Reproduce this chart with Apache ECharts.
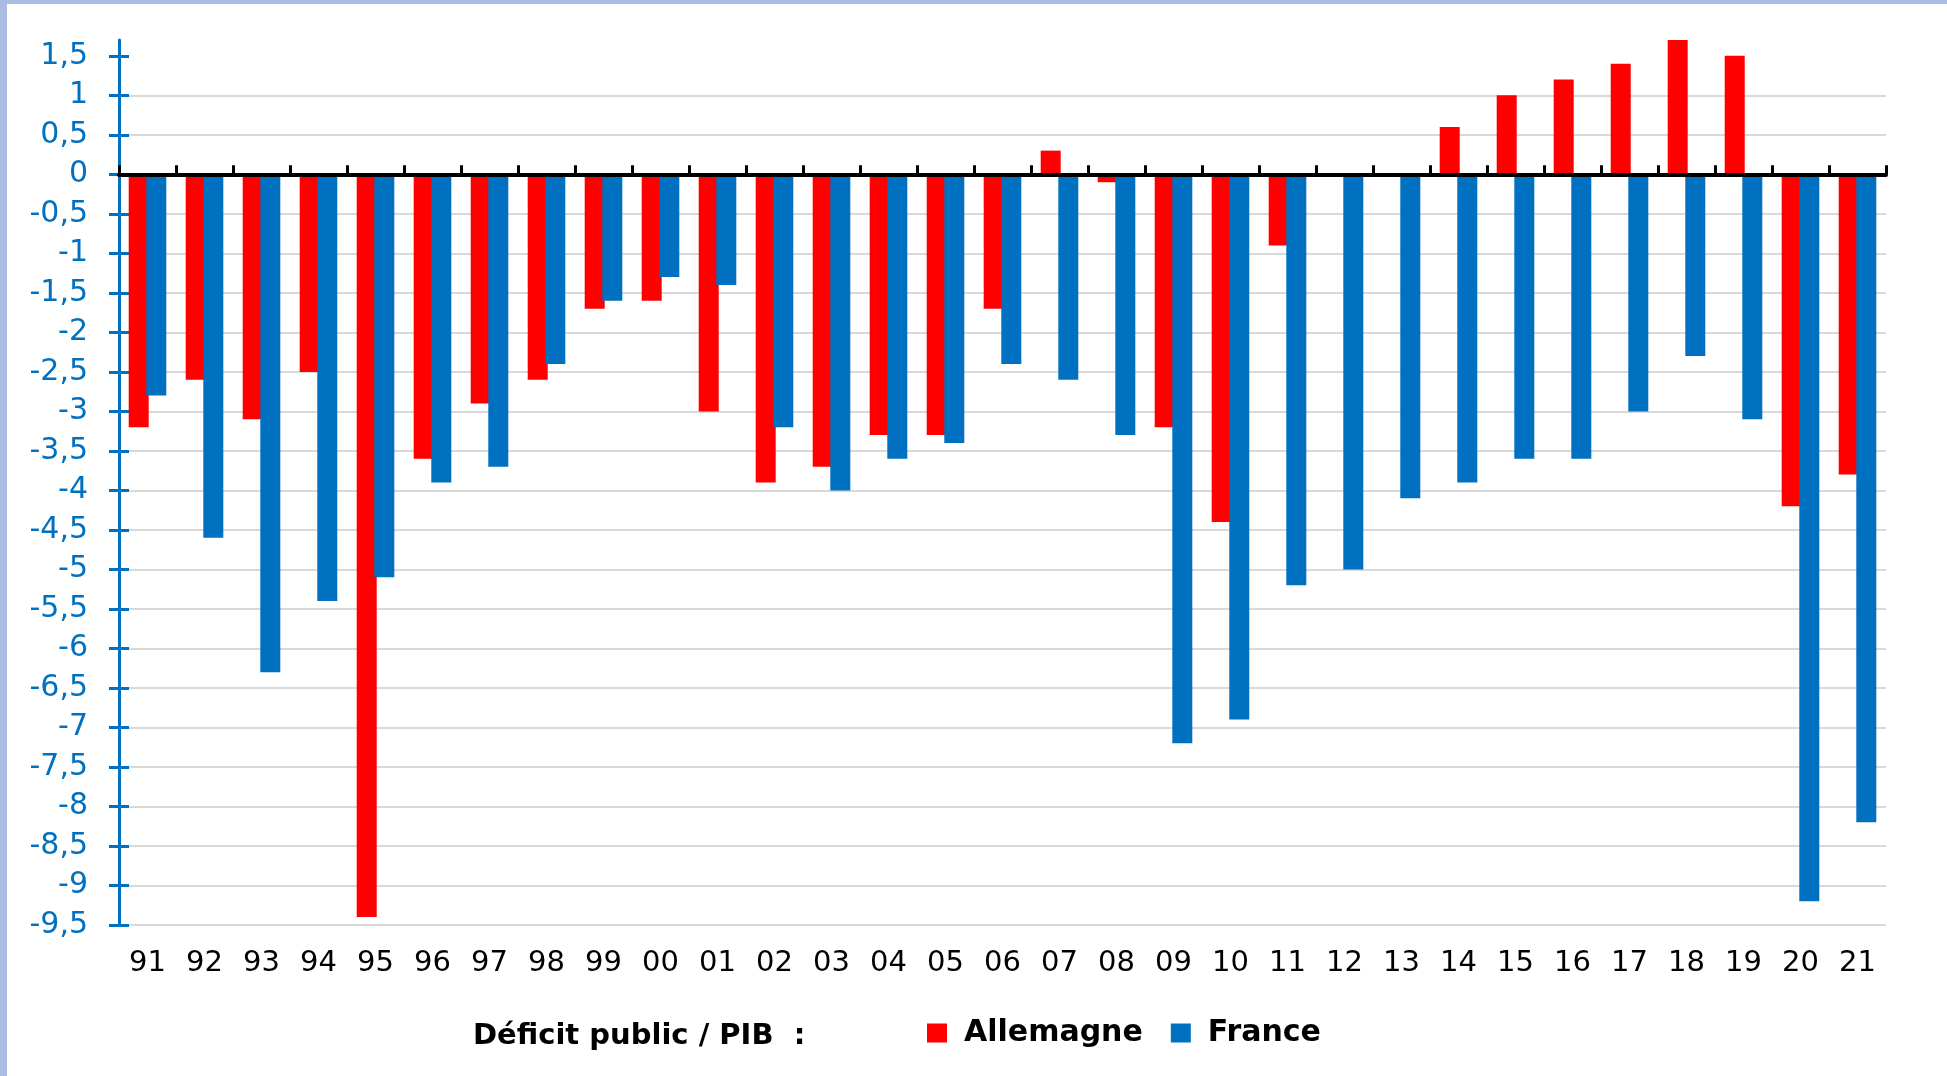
<!DOCTYPE html>
<html>
<head>
<meta charset="UTF-8">
<title>Déficit public / PIB</title>
<style>
  html, body { margin: 0; padding: 0; background: #a9bde2; }
  #myChart { position: absolute; left: 7px; top: 4px; width: 1940px; height: 1072px; background: #fff; }
</style>
</head>
<body>
<div id="myChart"></div>
<script src="https://cdn.jsdelivr.net/npm/echarts@6/dist/echarts.min.js"></script>
<script>
var years = ['91', '92', '93', '94', '95', '96', '97', '98', '99', '00',
             '01', '02', '03', '04', '05', '06', '07', '08', '09', '10',
             '11', '12', '13', '14', '15', '16', '17', '18', '19', '20', '21'];
var allemagne = [-3.2, -2.6, -3.1, -2.5, -9.4, -3.6, -2.9, -2.6, -1.7, -1.6,
                 -3.0, -3.9, -3.7, -3.3, -3.3, -1.7, 0.3, -0.1, -3.2, -4.4,
                 -0.9, 0, 0, 0.6, 1.0, 1.2, 1.4, 1.7, 1.5, -4.2, -3.8];
var france = [-2.8, -4.6, -6.3, -5.4, -5.1, -3.9, -3.7, -2.4, -1.6, -1.3,
              -1.4, -3.2, -4.0, -3.6, -3.4, -2.4, -2.6, -3.3, -7.2, -6.9,
              -5.2, -5.0, -4.1, -3.9, -3.6, -3.6, -3.0, -2.3, -3.1, -9.2, -8.2];
var yTicks = [-9.5, -9, -8.5, -8, -7.5, -7, -6.5, -6, -5.5, -5, -4.5, -4,
              -3.5, -3, -2.5, -2, -1.5, -1, -0.5, 0, 0.5, 1, 1.5];

var font = 'DejaVu Sans';
var myChart = echarts.init(document.getElementById('myChart'));

function fmt(v) {
  return String(v).replace('.', ',');
}

var option = {
  animation: false,
  backgroundColor: '#fff',
  title: {
    text: 'Déficit public / PIB  :',
    left: 466,
    top: 1017,
    padding: 0,
    textStyle: { fontFamily: font, fontSize: 29, fontWeight: 'bold', color: '#000', lineHeight: 30 }
  },
  legend: {
    left: 920,
    top: 1014,
    padding: 0,
    itemWidth: 20,
    itemHeight: 19,
    itemGap: 28,
    icon: 'rect',
    textStyle: { fontFamily: font, fontSize: 30, fontWeight: 'bold', color: '#000', lineHeight: 30, padding: [0, 0, 0, 12] },
    data: ['Allemagne', 'France']
  },
  grid: { left: 112, right: 61, top: 36, bottom: 151 },
  xAxis: [{
    type: 'category',
    position: 'bottom',
    data: years,
    axisLine: { show: false, onZero: false },
    axisTick: { show: false },
    axisLabel: { fontFamily: font, fontSize: 29, color: '#000', margin: 24 }
  }, {
    type: 'category',
    position: 'bottom',
    data: years,
    z: 5,
    axisLine: { show: true, onZero: true, lineStyle: { color: '#000', width: 4 } },
    axisTick: { show: true, inside: true, length: 9, lineStyle: { color: '#000', width: 3 } },
    axisLabel: { show: false }
  }],
  yAxis: [{
    type: 'value',
    position: 'left',
    min: -9.5,
    max: 1.7,
    axisLine: { show: true, lineStyle: { color: '#0070c0', width: 3 } },
    axisTick: { show: true, length: 10, customValues: yTicks, lineStyle: { color: '#0070c0', width: 3 } },
    axisLabel: {
      customValues: yTicks,
      fontFamily: font, fontSize: 30, color: '#0070c0', margin: 31,
      formatter: fmt
    },
    splitLine: { show: true, showMaxLine: false, lineStyle: { color: '#d9d9d9', width: 2 } }
  }, {
    type: 'value',
    position: 'left',
    min: -9.5,
    max: 1.7,
    axisLine: { show: false },
    axisTick: { show: true, inside: true, length: 10, customValues: yTicks, lineStyle: { color: '#0070c0', width: 3 } },
    axisLabel: { show: false },
    splitLine: { show: false }
  }],
  series: [{
    name: 'Allemagne',
    type: 'bar',
    xAxisIndex: 0,
    yAxisIndex: 0,
    barWidth: 20,
    barGap: '-12%',
    itemStyle: { color: '#ff0000' },
    data: allemagne
  }, {
    name: 'France',
    type: 'bar',
    xAxisIndex: 0,
    yAxisIndex: 0,
    barWidth: 20,
    barGap: '-12%',
    itemStyle: { color: '#0070c0' },
    data: france
  }]
};

myChart.setOption(option);
</script>
</body>
</html>
